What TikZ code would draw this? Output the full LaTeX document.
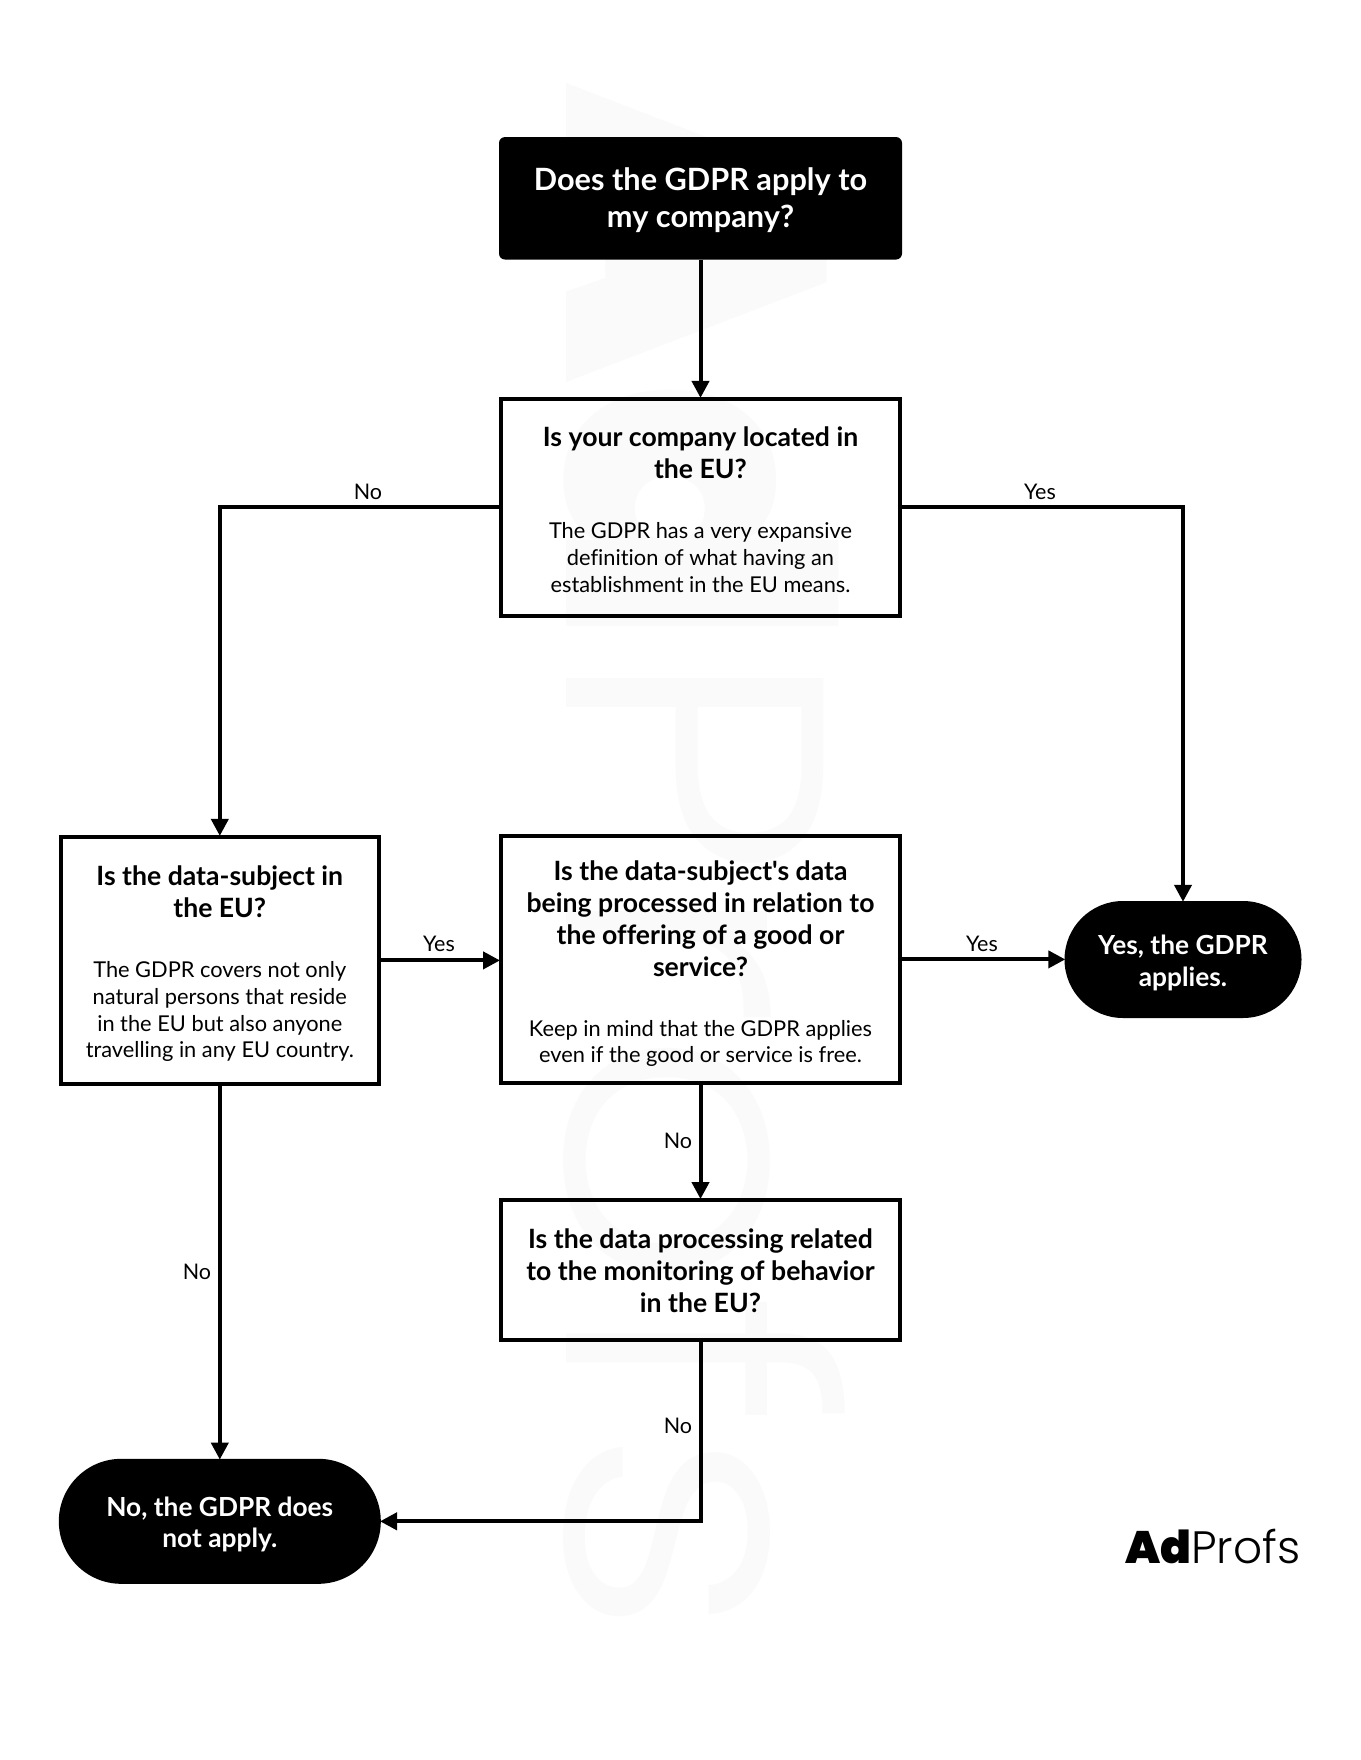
\documentclass[tikz,border=0pt]{standalone}
\usepackage{fontspec}
\setmainfont{Lato}[Ligatures={TeXOff,CommonOff}]
\newfontfamily\logoheavy{Poppins Black}
\newfontfamily\logolight{Poppins Light}
\usetikzlibrary{arrows.meta,calc}
\newcommand{\hdfont}{\fontsize{26.6pt}{31.8pt}\selectfont\bfseries}
\newcommand{\bdfont}{\fontsize{21.8pt}{26.7pt}\selectfont\mdseries}
% lowers a centred block by #1 inside its node: the padding above moves the block's centre
\newcommand{\lowered}[2]{\vbox{\kern #1\kern #1\hbox{#2}}}
% a block of centred text whose font changes hold from line to line
\newcommand{\qtext}[3]{\lowered{#2}{\begin{minipage}{#1}\centering #3\par\end{minipage}}}
\newcommand{\twolines}[3]{\lowered{#1}{\begin{tabular}{@{}c@{}}#2\\#3\end{tabular}}}
\tikzset{
  qbox/.style={draw=black,line width=4pt,inner sep=0pt,align=center,text=black},
  titlebox/.style={fill=black,text=white,rounded corners=6pt,inner sep=0pt,align=center,minimum width=403pt,minimum height=122.5pt,font=\fontsize{30.7pt}{37pt}\selectfont\bfseries},
  endpill/.style={fill=black,text=white,inner sep=0pt,align=center,font=\fontsize{26.3pt}{31.5pt}\selectfont\bfseries},
  conn/.style={line width=4pt,-{Triangle[length=17pt,width=17pt]},shorten >=-1pt},
  lbl/.style={font=\fontsize{21.5pt}{26pt}\selectfont,text=black,inner sep=0pt},
  wm/.style={text=black!2,inner sep=0pt,rotate=-90,xscale=1.095}
}
\begin{document}
\begin{tikzpicture}[x=1pt,y=-1pt]
\useasboundingbox (0,0) rectangle (1360,1760);
\fill[white] (0,0) rectangle (1360,1760);
\node[wm] (water) at (704,861) {\fontsize{368pt}{368pt}\selectfont\scalebox{0.96}[1]{\logoheavy Ad}\scalebox{1.025}[1]{\logolight Profs}};
\node[titlebox] (t) at (700.5,198.3) {\twolines{3.4pt}{Does the GDPR apply to}{my company?}};
\node[qbox,minimum width=399pt,minimum height=217pt] (q1) at (700.5,507.4) {\qtext{390pt}{2.2pt}{\hdfont Is your company located in\\the EU?\par\vspace{33.5pt}\bdfont The GDPR has a very expansive\\definition of what having an\\establishment in the EU means.}};
\node[qbox,minimum width=318pt,minimum height=247pt] (q2) at (219.8,960.4) {\qtext{310pt}{3.4pt}{\hdfont Is the data-subject in\\the EU?\par\vspace{33.5pt}\bdfont The GDPR covers not only\\natural persons that reside\\in the EU but also anyone\\travelling in any EU country.}};
\node[qbox,minimum width=399pt,minimum height=247pt] (q3) at (700.5,959.4) {\qtext{390pt}{4.5pt}{\hdfont Is the data-subject's data\\being processed in relation to\\the offering of a good or\\service?\par\vspace{33.5pt}\bdfont Keep in mind that the GDPR applies\\even if the good or service is free.}};
\node[qbox,minimum width=399pt,minimum height=139.7pt] (q4) at (700.5,1269.9) {\qtext{390pt}{1.1pt}{\hdfont Is the data processing related\\to the monitoring of behavior\\in the EU?}};
\node[endpill,minimum width=237pt,minimum height=117pt,rounded corners=58.5pt] (yes) at (1183,959.5) {\twolines{4.5pt}{Yes, the GDPR}{applies.}};
\node[endpill,minimum width=322pt,minimum height=125pt,rounded corners=62.5pt] (no) at (219.8,1521.3) {\twolines{4.5pt}{No, the GDPR does}{not apply.}};
\draw[conn] (t.south) -- (q1.north);
\draw[conn] (q1.west) -| (q2.north);
\draw[conn] (q1.east) -| (yes.north);
\draw[conn] (q2.east) -- (q2.east -| q3.west);
\draw[conn] (q3.east) -- (q3.east -| yes.west);
\draw[conn] (q3.south) -- (q4.north);
\draw[conn] (q2.south) -- (no.north);
\draw[conn] (q4.south) |- (no.east);
\node[lbl] (l1) at (368,492) {No};
\node[lbl] (l2) at (1040,492) {Yes};
\node[lbl] (l3) at (439,944) {Yes};
\node[lbl] (l4) at (982,944) {Yes};
\node[lbl] (l5) at (678,1141) {No};
\node[lbl] (l6) at (197,1272) {No};
\node[lbl] (l7) at (678,1426) {No};
\node[inner sep=0pt,anchor=base east] (logo) at (1300.5,1563) {\fontsize{45.4pt}{46pt}\selectfont{\logoheavy Ad}{\logolight Profs}};
\end{tikzpicture}
\end{document}
